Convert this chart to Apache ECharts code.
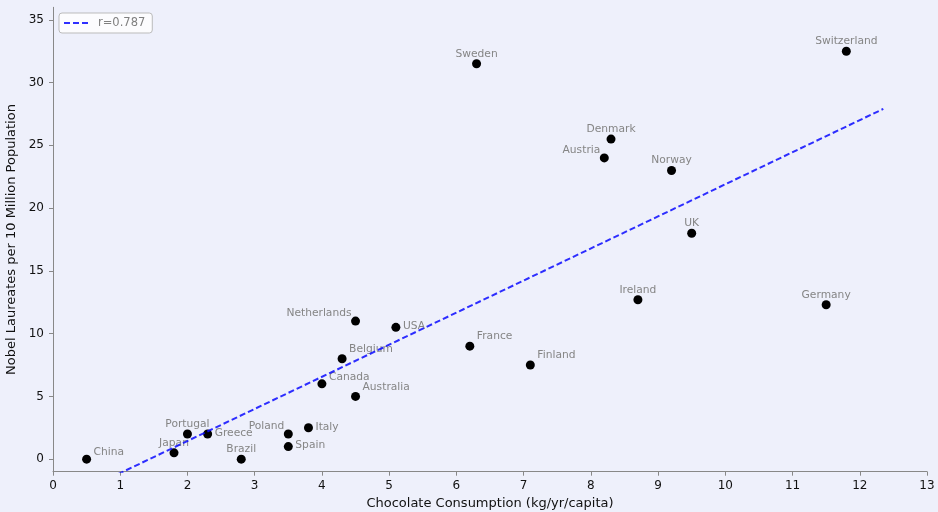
<!DOCTYPE html>
<html>
<head>
<meta charset="utf-8">
<script src="https://cdn.jsdelivr.net/npm/echarts@6/dist/echarts.min.js"></script>
<style>
html,body{margin:0;padding:0;background:#eef0fb;}
#chart{width:938px;height:512px;}
</style>
</head>
<body>
<div id="chart"></div>
<script>
const countries = ["China","Japan","Portugal","Greece","Brazil","Poland","Spain","Italy","Canada","Belgium","Australia","Netherlands","USA","France","Finland","Sweden","Austria","Denmark","Norway","UK","Ireland","Germany","Switzerland"];
const chocolate = [0.5,1.8,2.0,2.3,2.8,3.5,3.5,3.8,4.0,4.3,4.5,4.5,5.1,6.2,7.1,6.3,8.2,8.3,9.2,9.5,8.7,11.5,11.8];
const laureates = [0,0.5,2,2,0,2,1,2.5,6,8,5,11,10.5,9,7.5,31.5,24,25.5,23,18,12.7,12.3,32.5];
const labelPlacement = ["topright_low","top","top","right","top","topleft","right","right","topright_low","topright","topright","topleft","right","topright","topright","top","topleft","top","top","top","top","top","top"];
const xTicks = [0,1,2,3,4,5,6,7,8,9,10,11,12,13];
const yTicks = [0,5,10,15,20,25,30,35];
const fitXRange = [0, 12.35];

// least-squares fit and correlation from the data
const n = chocolate.length;
const mx = chocolate.reduce((a,b)=>a+b,0)/n;
const my = laureates.reduce((a,b)=>a+b,0)/n;
let sxy=0,sxx=0,syy=0;
for(let i=0;i<n;i++){const dx=chocolate[i]-mx, dy=laureates[i]-my; sxy+=dx*dy; sxx+=dx*dx; syy+=dy*dy;}
const slope = sxy/sxx, intercept = my - slope*mx, r = sxy/Math.sqrt(sxx*syy);
const fitData = fitXRange.map(x => [x, intercept + slope*x]);
const fitName = 'r=' + r.toFixed(3);

const placements = {
  top:          {align:'center', offset:[0,-10]},
  right:        {align:'left',   offset:[7,-1]},
  topright:     {align:'left',   offset:[7,-9.5]},
  topright_low: {align:'left',   offset:[7,-7]},
  topleft:      {align:'right',  offset:[-4,-8]}
};

const scatterData = countries.map((c,i)=>{
  const p = placements[labelPlacement[i]];
  return {
    value:[chocolate[i], laureates[i]],
    name:c,
    label:{show:true, formatter:c, position:'inside', align:p.align, verticalAlign:'middle', offset:p.offset}
  };
});

const font = 'DejaVu Sans';
const chart = echarts.init(document.getElementById('chart'));
chart.setOption({
  backgroundColor:'#eef0fb',
  animation:false,
  textStyle:{fontFamily:font},
  grid:{left:53,right:11,top:7.3,bottom:40.3,containLabel:false,outerBoundsMode:'none'},
  legend:{
    show:true, left:59, top:13, orient:'vertical',
    data:[{name:fitName, icon:'path://M0,0h6v2H0z M9,0h6v2H9z M18,0h6v2h-6z'}],
    backgroundColor:'rgba(255,255,255,0.8)', borderColor:'#bbbbbb', borderWidth:1, borderRadius:3,
    padding:[4,7,4,5], itemWidth:24, itemHeight:2, itemGap:4,
    textStyle:{color:'#808080', fontSize:11.5, fontFamily:font, padding:[0,0,0,5]}
  },
  xAxis:{
    type:'value', min:0, max:13, interval:1,
    name:'Chocolate Consumption (kg/yr/capita)', nameLocation:'middle', nameGap:25,
    nameTextStyle:{color:'#111', fontSize:13, fontFamily:font},
    axisLine:{show:true, onZero:false, lineStyle:{color:'#888', width:1}},
    axisTick:{show:true, length:4, lineStyle:{color:'#888'}},
    axisLabel:{color:'#111', fontSize:12, margin:8, fontFamily:font, formatter:v=>xTicks.includes(v)?String(v):''},
    splitLine:{show:false}
  },
  yAxis:{
    type:'value', min:-1, max:36,
    name:'Nobel Laureates per 10 Million Population', nameLocation:'middle', nameGap:24,
    nameTextStyle:{color:'#111', fontSize:13, fontFamily:font},
    axisLine:{show:true, onZero:false, lineStyle:{color:'#888', width:1}},
    axisTick:{show:true, length:4, lineStyle:{color:'#888'}, customValues:yTicks},
    axisLabel:{color:'#111', fontSize:12, margin:9, fontFamily:font, customValues:yTicks},
    splitLine:{show:false}
  },
  series:[
    {
      type:'scatter', z:2, symbol:'circle', symbolSize:9,
      itemStyle:{color:'#000', opacity:1},
      label:{color:'#858585', fontSize:10.7, fontFamily:font},
      data:scatterData
    },
    {
      type:'line', name:fitName, z:3, symbol:'none', showSymbol:false, clip:true,
      lineStyle:{color:'rgba(10,10,255,0.85)', width:2, type:[6,3]},
      itemStyle:{color:'rgba(10,10,255,0.85)'},
      data:fitData
    }
  ]
});
</script>
</body>
</html>
